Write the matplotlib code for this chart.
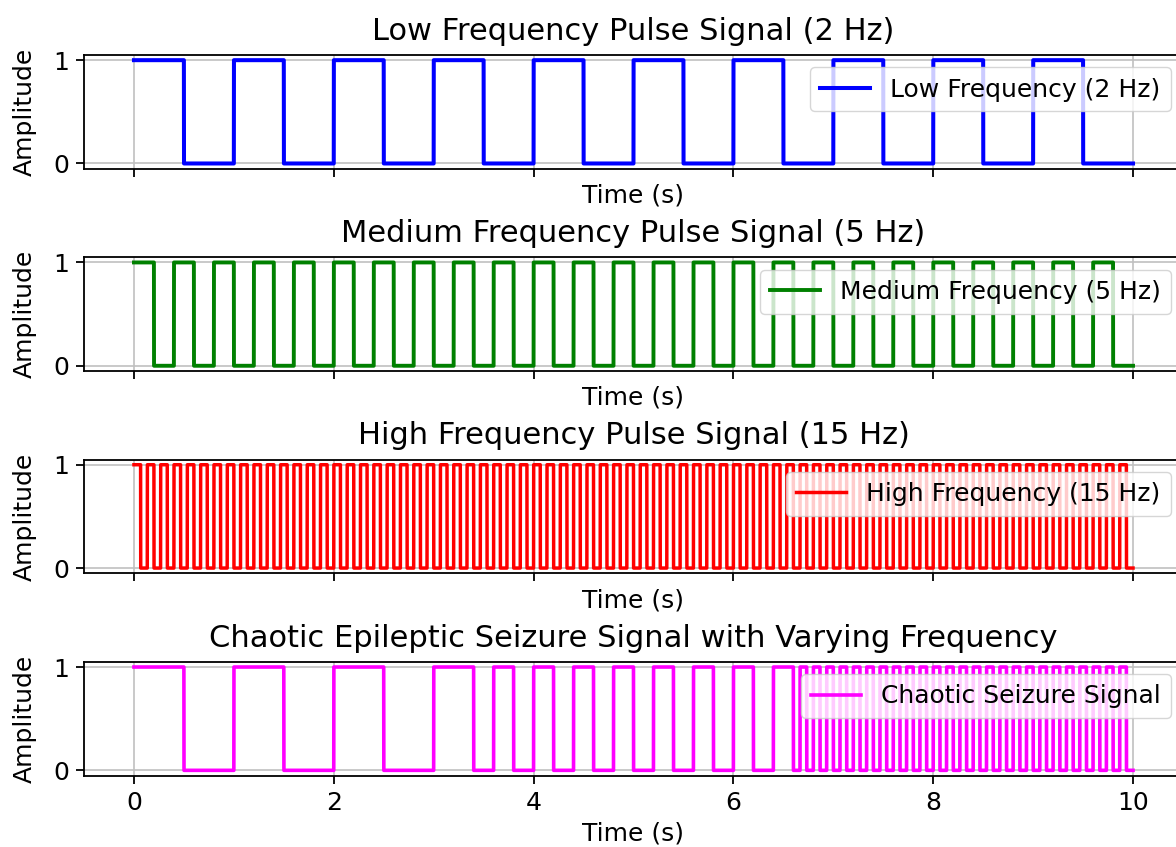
import numpy as np
import matplotlib
matplotlib.use('Agg')
import matplotlib.pyplot as plt

# time axis (s)
t_start, t_end = 0.0, 10.0

# pulse periods (s): one full high+low cycle
low_period = 1.0
medium_period = 0.4
high_period = 2.0 / 15.0

# chaotic signal: three segments with their own pulse period
chaotic_edges = [0.0, 10.0 / 3.0, 20.0 / 3.0, 10.0]
chaotic_periods = [1.0, 0.4, 2.0 / 15.0]

titles = ['Low Frequency Pulse Signal (2 Hz)',
          'Medium Frequency Pulse Signal (5 Hz)',
          'High Frequency Pulse Signal (15 Hz)',
          'Chaotic Epileptic Seizure Signal with Varying Frequency']
labels = ['Low Frequency (2 Hz)', 'Medium Frequency (5 Hz)',
          'High Frequency (15 Hz)', 'Chaotic Seizure Signal']
colors = ['blue', 'green', 'red', 'magenta']
xticks = [0, 2, 4, 6, 8, 10]
yticks = [0, 1]


def pulse(t, period):
    return (np.mod(t + 1e-9, period) < period / 2.0).astype(float)


t = np.linspace(t_start, t_end, 40000, endpoint=False)
low = pulse(t, low_period)
medium = pulse(t, medium_period)
high = pulse(t, high_period)
chaotic = np.zeros_like(t)
for a, b, p in zip(chaotic_edges[:-1], chaotic_edges[1:], chaotic_periods):
    sel = (t >= a) & (t < b)
    chaotic[sel] = pulse(t[sel], p)

signals = [low, medium, high, chaotic]
widths = [2.9, 2.8, 2.5, 2.6]

plt.rcParams['font.family'] = 'DejaVu Sans'
plt.rcParams['font.size'] = 18
plt.rcParams['axes.linewidth'] = 1.3

fig, axes = plt.subplots(4, 1, figsize=(11.76, 8.47), dpi=100, sharex=True)
fig.subplots_adjust(left=84 / 1176, right=1183 / 1176, top=1 - 55 / 847,
                    bottom=1 - 775.5 / 847, hspace=0.78)

for ax, sig, ttl, lab, c, lw in zip(axes, signals, titles, labels, colors, widths):
    ax.plot(t, sig, color=c, linewidth=lw, label=lab)
    ax.set_title(ttl, fontsize=22, pad=11)
    ax.set_xlabel('Time (s)', fontsize=18, labelpad=5)
    ax.set_ylabel('Amplitude', fontsize=18, labelpad=12)
    ax.set_yticks(yticks)
    ax.set_xticks(xticks)
    ax.tick_params(length=5.8, width=1.3, labelsize=18, pad=5)
    ax.grid(True, color='#c0c0c0', linewidth=1.2)
    ax.legend(loc='upper right', fontsize=18)

axes[0].set_xlim(-0.5, 10.5)

fig.savefig('out.png', dpi=100)
